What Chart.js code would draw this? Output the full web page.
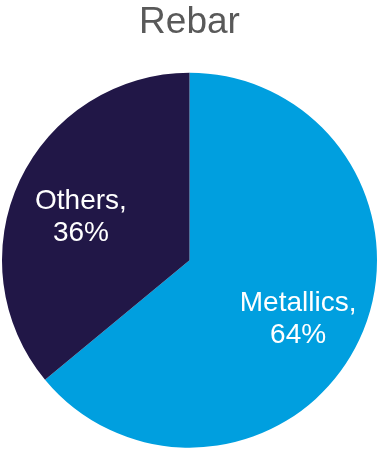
<!DOCTYPE html>
<html>
<head>
<meta charset="utf-8">
<script src="https://cdn.jsdelivr.net/npm/chart.js@4.4.0/dist/chart.umd.min.js"></script>
<style>
  html, body { margin: 0; padding: 0; background: #ffffff; }
  #wrap { width: 377px; height: 451px; }
</style>
</head>
<body>
<div id="wrap"><canvas id="pieChart" width="377" height="451"></canvas></div>
<script>
const chartTitle = 'Rebar';
const categories = ['Metallics', 'Others'];
const shares = [64, 36];
const sliceColors = ['#009fdf', '#211747'];

// draws "Name,\nNN%" inside each slice, a bit further out than the arc midpoint
const sliceLabels = {
  id: 'sliceLabels',
  afterDatasetsDraw(chart) {
    const ctx = chart.ctx;
    const meta = chart.getDatasetMeta(0);
    ctx.save();
    ctx.fillStyle = '#ffffff';
    ctx.font = '28px "Liberation Sans", Arial, sans-serif';
    ctx.textAlign = 'center';
    ctx.textBaseline = 'middle';
    meta.data.forEach((arc, i) => {
      const p = arc.getProps(['x', 'y', 'startAngle', 'endAngle', 'outerRadius'], true);
      const mid = (p.startAngle + p.endAngle) / 2;
      const r = p.outerRadius * 0.64;
      const cx = p.x + Math.cos(mid) * r;
      const cy = p.y + Math.sin(mid) * r + 8;
      ctx.fillText(categories[i] + ',', cx, cy - 16);
      ctx.fillText(shares[i] + '%', cx, cy + 16);
    });
    ctx.restore();
  }
};

const ctx = document.getElementById('pieChart').getContext('2d');
const pieChart = new Chart(ctx, {
  type: 'pie',
  data: {
    labels: categories,
    datasets: [{
      data: shares,
      backgroundColor: sliceColors,
      borderWidth: 0
    }]
  },
  options: {
    responsive: false,
    animation: false,
    layout: { padding: { left: 2, right: 0, top: 0, bottom: 3 } },
    plugins: {
      legend: { display: false },
      tooltip: { enabled: false },
      title: {
        display: true,
        text: chartTitle,
        color: '#595959',
        font: { family: '"Liberation Sans", Arial, sans-serif', size: 37, weight: 'normal' },
        padding: { top: 1, bottom: 27 }
      }
    }
  },
  plugins: [sliceLabels]
});
</script>
</body>
</html>
